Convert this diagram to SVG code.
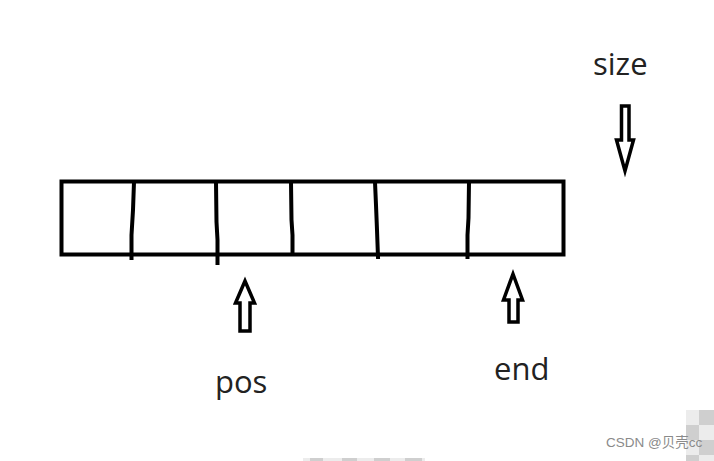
<svg xmlns="http://www.w3.org/2000/svg" width="714" height="461" viewBox="0 0 714 461">
<style>
.ln{stroke:#000;stroke-width:4;fill:none;stroke-linecap:square}
.ar{stroke:#000;stroke-width:3.5;fill:#fff;stroke-linejoin:miter}
.lbl{font-family:"Open Sans","Noto Sans","DejaVu Sans",sans-serif;font-size:31px;fill:#222}
.wm{font-family:"Liberation Sans","Noto Sans CJK SC",sans-serif;font-size:13.5px;fill:#8a8a8a}
.lt{fill:#ececec}.dk{fill:#cfcfcf}
</style>
<rect width="714" height="461" fill="#fff"/>
<g id="array">
<rect class="ln" x="61.5" y="181.5" width="502" height="73" stroke-linecap="butt"/>
</g>
<g id="dividers">
<polyline class="ln" points="134,182 133,210 131.5,235 131.5,258"/>
<polyline class="ln" points="216,182 216.5,222 217.5,240 217.5,263"/>
<polyline class="ln" points="291,182 291.5,220 292.5,235 292.5,253"/>
<polyline class="ln" points="375,182 376,205 377,230 378,257"/>
<polyline class="ln" points="469,182 468.5,218 467.5,235 467.5,257"/>
</g>
<g id="connectors">
<polygon class="ar" points="621.5,106 629,106 629,140 633.5,140 625,171 616.5,140 621.5,140"/>
<polygon class="ar" points="245,281 254.5,303 250,303 250,331 240,331 240,303 235.5,303"/>
<polygon class="ar" points="513,274 522.5,300 518,300 518,322 509,322 509,300 503.5,300"/>
</g>
<g id="size"><text class="lbl" x="593" y="75">size</text></g>
<g id="pos"><text class="lbl" x="215" y="393">pos</text></g>
<g id="end"><text class="lbl" x="494" y="380">end</text></g>
<g id="watermark">
<rect class="lt" x="686" y="410" width="13" height="15"/>
<rect class="dk" x="699" y="410" width="15" height="15"/>
<rect class="dk" x="686" y="425" width="13" height="15"/>
<rect class="lt" x="699" y="425" width="15" height="15"/>
<rect class="lt" x="686" y="440" width="13" height="15"/>
<rect class="dk" x="699" y="440" width="15" height="15"/>
<rect class="dk" x="686" y="455" width="13" height="6"/>
<rect class="lt" x="699" y="455" width="15" height="6"/>
<rect class="lt" x="303" y="458" width="122" height="3"/>
<rect class="dk" x="310" y="458" width="13" height="3"/>
<rect class="dk" x="342" y="458" width="15" height="3"/>
<rect class="dk" x="374" y="458" width="16" height="3"/>
<rect class="dk" x="405" y="458" width="17" height="3"/>
<text class="wm" x="606" y="447">CSDN @贝壳cc</text>
</g>
</svg>
